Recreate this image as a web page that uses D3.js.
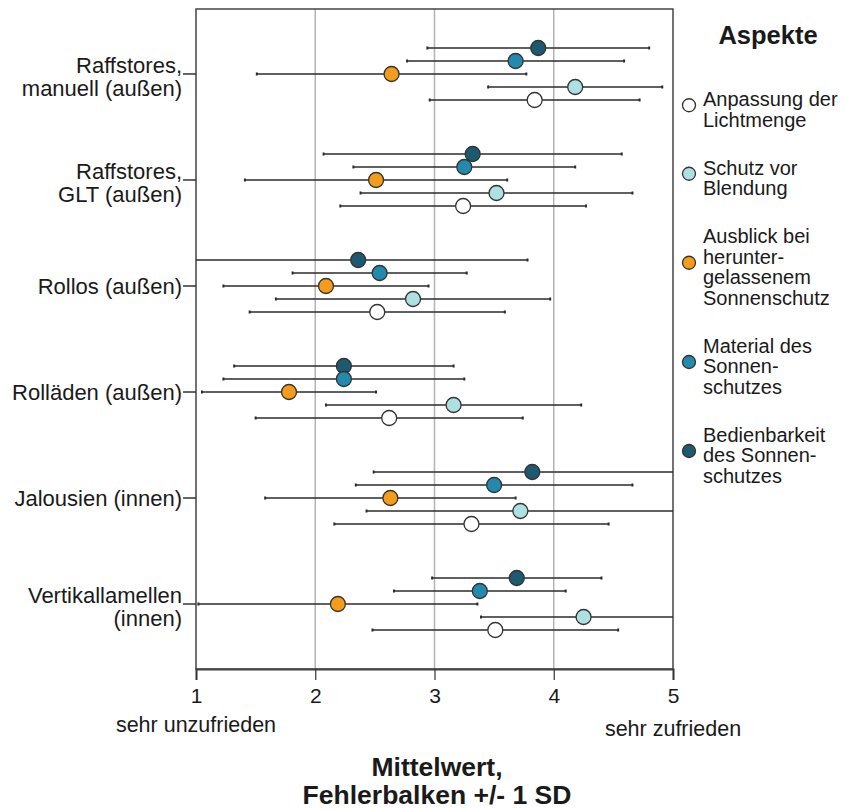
<!DOCTYPE html>
<html>
<head>
<meta charset="utf-8">
<script src="https://cdn.jsdelivr.net/npm/d3@7"></script>
<style>
  body { margin: 0; background: #fff; }
  text { font-family: "Liberation Sans", Arial, sans-serif; fill: #1a1a1a; }
</style>
</head>
<body>
<div></div>
<script>
// Kategorien (y-Achse), mehrzeilig
const categories = [
  ["Raffstores,", "manuell (außen)"],
  ["Raffstores,", "GLT (außen)"],
  ["Rollos (außen)"],
  ["Rolläden (außen)"],
  ["Jalousien (innen)"],
  ["Vertikallamellen", "(innen)"]
];

// Reihenfolge im Diagramm von oben nach unten
const series = ["Bedienbarkeit", "Material", "Ausblick", "Schutz", "Anpassung"];
const seriesColors = ["#1d5a70", "#2389ad", "#f59c1c", "#ade0e1", "#ffffff"];

// Mittelwerte je Aspekt (pro Kategorie)
const meanBedienbarkeit = [3.87, 3.32, 2.36, 2.24, 3.82, 3.69];
const meanMaterial      = [3.68, 3.25, 2.54, 2.24, 3.50, 3.38];
const meanAusblick      = [2.64, 2.51, 2.09, 1.78, 2.63, 2.19];
const meanSchutz        = [4.18, 3.52, 2.82, 3.16, 3.72, 4.25];
const meanAnpassung     = [3.84, 3.24, 2.52, 2.62, 3.31, 3.51];

// Standardabweichungen
const sdBedienbarkeit = [0.93, 1.25, 1.42, 0.92, 1.33, 0.71];
const sdMaterial      = [0.91, 0.93, 0.73, 1.01, 1.16, 0.72];
const sdAusblick      = [1.13, 1.10, 0.86, 0.73, 1.05, 1.17];
const sdSchutz        = [0.73, 1.14, 1.15, 1.07, 1.29, 0.86];
const sdAnpassung     = [0.88, 1.03, 1.07, 1.12, 1.15, 1.03];

const xTicks = [1, 2, 3, 4, 5];

// Legende (Reihenfolge wie im Original)
const legendSeries = ["Anpassung", "Schutz", "Ausblick", "Material", "Bedienbarkeit"];
const legendLines = [
  ["Anpassung der", "Lichtmenge"],
  ["Schutz vor", "Blendung"],
  ["Ausblick bei", "herunter-", "gelassenem", "Sonnenschutz"],
  ["Material des", "Sonnen-", "schutzes"],
  ["Bedienbarkeit", "des Sonnen-", "schutzes"]
];

const means = [meanBedienbarkeit, meanMaterial, meanAusblick, meanSchutz, meanAnpassung];
const sds = [sdBedienbarkeit, sdMaterial, sdAusblick, sdSchutz, sdAnpassung];

const W = 847, H = 809;
const plot = { left: 196, right: 673, top: 9, bottom: 669 };

const svg = d3.select("div").append("svg")
  .attr("width", W).attr("height", H);

const x = d3.scaleLinear().domain([1, 5]).range([plot.left, plot.right]).clamp(true);
const y = d3.scalePoint().domain(d3.range(categories.length))
  .range([plot.top, plot.bottom]).padding(0.613);
const ySub = d3.scalePoint().domain(series).range([-26, 26]);
const color = d3.scaleOrdinal().domain(series).range(seriesColors);

// Gitterlinien
svg.append("g")
  .selectAll("line")
  .data(xTicks.slice(1, -1))
  .join("line")
  .attr("x1", d => x(d)).attr("x2", d => x(d))
  .attr("y1", plot.top).attr("y2", plot.bottom)
  .attr("stroke", "#b3b3b3").attr("stroke-width", 1.5);

// Rahmen
svg.append("rect")
  .attr("x", plot.left).attr("y", plot.top)
  .attr("width", plot.right - plot.left).attr("height", plot.bottom - plot.top)
  .attr("fill", "none").attr("stroke", "#444").attr("stroke-width", 1.5);

// x-Achse
const xAxis = svg.append("g")
  .attr("transform", `translate(0,${plot.bottom})`)
  .call(d3.axisBottom(x).tickValues(xTicks).tickFormat(d3.format("d")).tickSize(11).tickPadding(8));
xAxis.select(".domain").attr("stroke", "#444").attr("stroke-width", 2);
xAxis.selectAll(".tick line").attr("stroke", "#333").attr("stroke-width", 1.2);
xAxis.selectAll(".tick text").style("font-size", "21px").attr("fill", "#1a1a1a")
  .style("font-family", "'Liberation Sans', Arial, sans-serif");

svg.append("text").attr("x", x(1)).attr("y", 732)
  .attr("text-anchor", "middle").style("font-size", "21.5px").text("sehr unzufrieden");
svg.append("text").attr("x", x(5)).attr("y", 736)
  .attr("text-anchor", "middle").style("font-size", "21.5px").text("sehr zufrieden");

svg.append("text").attr("x", 437).attr("y", 776)
  .attr("text-anchor", "middle").style("font-size", "26.5px").style("font-weight", "bold")
  .text("Mittelwert,");
svg.append("text").attr("x", 437).attr("y", 804)
  .attr("text-anchor", "middle").style("font-size", "26.5px").style("font-weight", "bold")
  .text("Fehlerbalken +/- 1 SD");

// y-Achse: Striche und Beschriftungen
const yAxis = svg.append("g");
yAxis.selectAll("line")
  .data(categories)
  .join("line")
  .attr("x1", plot.left - 13).attr("x2", plot.left)
  .attr("y1", (d, i) => y(i)).attr("y2", (d, i) => y(i))
  .attr("stroke", "#333").attr("stroke-width", 1.5);

yAxis.selectAll("text")
  .data(categories)
  .join("text")
  .attr("text-anchor", "end")
  .style("font-size", "22px")
  .attr("transform", (d, i) => `translate(${plot.left - 14},${y(i)})`)
  .selectAll("tspan")
  .data(d => d.map((t, j) => ({ t, j, n: d.length })))
  .join("tspan")
  .attr("x", 0)
  .attr("y", d => d.n === 1 ? 8 : (d.j === 0 ? -1 : 22))
  .text(d => d.t);

// Datenpunkte
const rows = [];
series.forEach((s, si) => {
  categories.forEach((c, ci) => {
    rows.push({ s, ci, mean: means[si][ci], sd: sds[si][ci] });
  });
});

const marks = svg.append("g");
const bars = marks.selectAll("g.bar")
  .data(rows)
  .join("g")
  .attr("class", "bar")
  .attr("transform", d => `translate(0,${y(d.ci) + ySub(d.s)})`);

bars.append("line")
  .attr("x1", d => x(d.mean - d.sd)).attr("x2", d => x(d.mean + d.sd))
  .attr("stroke", "#2b2b2b").attr("stroke-width", 1.6);

bars.selectAll("line.cap")
  .data(d => [d.mean - d.sd, d.mean + d.sd].filter(v => v > 1 && v < 5))
  .join("line")
  .attr("class", "cap")
  .attr("x1", v => x(v)).attr("x2", v => x(v))
  .attr("y1", -1.5).attr("y2", 1.5)
  .attr("stroke", "#2b2b2b").attr("stroke-width", 2);

bars.append("circle")
  .attr("cx", d => x(d.mean))
  .attr("r", 7.5)
  .attr("fill", d => color(d.s))
  .attr("stroke", "#333").attr("stroke-width", 1.3);

// Legende
const legend = svg.append("g");
legend.append("text")
  .attr("x", 768).attr("y", 44)
  .attr("text-anchor", "middle")
  .style("font-size", "25.5px").style("font-weight", "bold")
  .text("Aspekte");

const lineH = 20.5;
const gap = 48;
let yy = 99;
legendSeries.forEach((s, i) => {
  const lines = legendLines[i];
  const mid = yy + (lines.length - 1) * lineH / 2;
  legend.append("circle")
    .attr("cx", 689).attr("cy", mid - 4)
    .attr("r", 6.5)
    .attr("fill", color(s))
    .attr("stroke", "#333").attr("stroke-width", 1.3);
  const t = legend.append("text").style("font-size", "20px");
  lines.forEach((l, j) => {
    t.append("tspan").attr("x", 703).attr("y", yy + j * lineH + 7).text(l);
  });
  yy += (lines.length - 1) * lineH + gap;
});
</script>
</body>
</html>
